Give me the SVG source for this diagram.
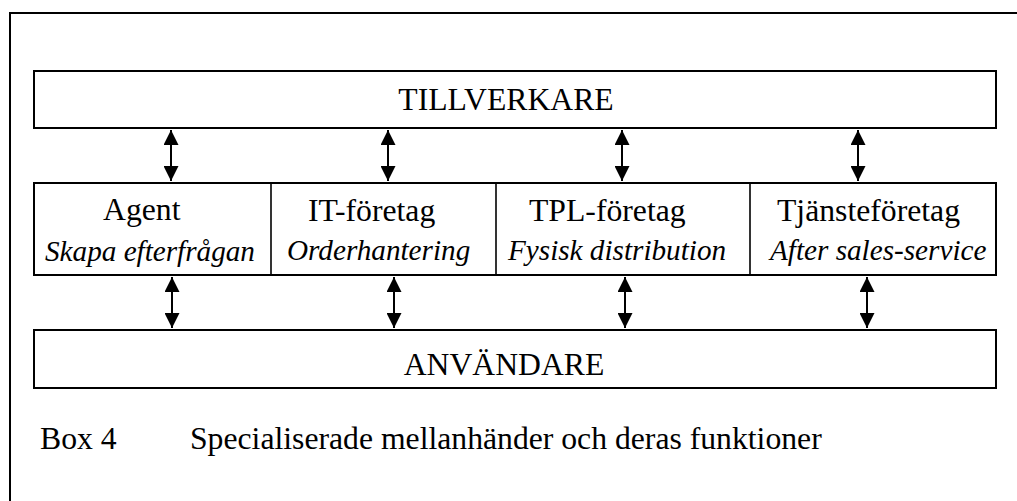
<svg xmlns="http://www.w3.org/2000/svg" width="1017" height="501" viewBox="0 0 1017 501">
  <style>
    .box { fill: #fff; stroke: #000; stroke-width: 2; }
    .div { stroke: #000; stroke-width: 1.6; }
    .frame { fill: none; stroke: #000; stroke-width: 2; }
    .lbl { font-family: "Liberation Serif", "Times New Roman", serif; font-size: 31.7px; fill: #000; }
    .fn { font-family: "Liberation Serif", "Times New Roman", serif; font-size: 29.2px; font-style: italic; fill: #000; }
    .conn line { stroke: #000; stroke-width: 2; }
  </style>
  <defs>
    <marker id="head" viewBox="0 0 15 15" markerWidth="15" markerHeight="15" refX="15" refY="7.5" orient="auto-start-reverse" markerUnits="userSpaceOnUse">
      <path d="M0,0 L15,7.5 L0,15 Z" fill="#000"/>
    </marker>
  </defs>
  <rect width="1017" height="501" fill="#fff"/>

  <!-- outer frame: top and left edges only -->
  <path class="frame" d="M10,501 V13 H1017"/>

  <g id="tillverkare">
    <rect class="box" x="34" y="71" width="962" height="57"/>
    <text class="lbl" x="506" y="110" text-anchor="middle">TILLVERKARE</text>
  </g>

  <g id="mellanhander">
    <rect class="box" x="34" y="183" width="962" height="92"/>
    <line class="div" x1="271" y1="183" x2="271" y2="275"/>
    <line class="div" x1="496" y1="183" x2="496" y2="275"/>
    <line class="div" x1="750" y1="183" x2="750" y2="275"/>
  </g>

  <g id="agent">
    <text class="lbl" x="103" y="220">Agent</text>
    <text class="fn" x="45" y="261">Skapa efterfrågan</text>
  </g>

  <g id="it-foretag">
    <text class="lbl" x="308" y="221">IT-företag</text>
    <text class="fn" x="287" y="260">Orderhantering</text>
  </g>

  <g id="tpl-foretag">
    <text class="lbl" x="529" y="221">TPL-företag</text>
    <text class="fn" x="508" y="260">Fysisk distribution</text>
  </g>

  <g id="tjansteforetag">
    <text class="lbl" x="777" y="221">Tjänsteföretag</text>
    <text class="fn" x="770" y="260">After sales-service</text>
  </g>

  <g id="anvandare">
    <rect class="box" x="34" y="330" width="962" height="58"/>
    <text class="lbl" x="504" y="375" text-anchor="middle">ANVÄNDARE</text>
  </g>

  <g id="caption">
    <text class="lbl" x="40" y="449">Box 4</text>
    <text class="lbl" x="190" y="449">Specialiserade mellanhänder och deras funktioner</text>
  </g>

  <g class="conn" id="connectors">
    <line x1="171" y1="130" x2="171" y2="181" marker-start="url(#head)" marker-end="url(#head)"/>
    <line x1="388" y1="130" x2="388" y2="181" marker-start="url(#head)" marker-end="url(#head)"/>
    <line x1="622" y1="130" x2="622" y2="181" marker-start="url(#head)" marker-end="url(#head)"/>
    <line x1="858" y1="130" x2="858" y2="181" marker-start="url(#head)" marker-end="url(#head)"/>
    <line x1="172" y1="277" x2="172" y2="328" marker-start="url(#head)" marker-end="url(#head)"/>
    <line x1="394" y1="277" x2="394" y2="328" marker-start="url(#head)" marker-end="url(#head)"/>
    <line x1="625" y1="277" x2="625" y2="328" marker-start="url(#head)" marker-end="url(#head)"/>
    <line x1="867" y1="277" x2="867" y2="328" marker-start="url(#head)" marker-end="url(#head)"/>
  </g>
</svg>
